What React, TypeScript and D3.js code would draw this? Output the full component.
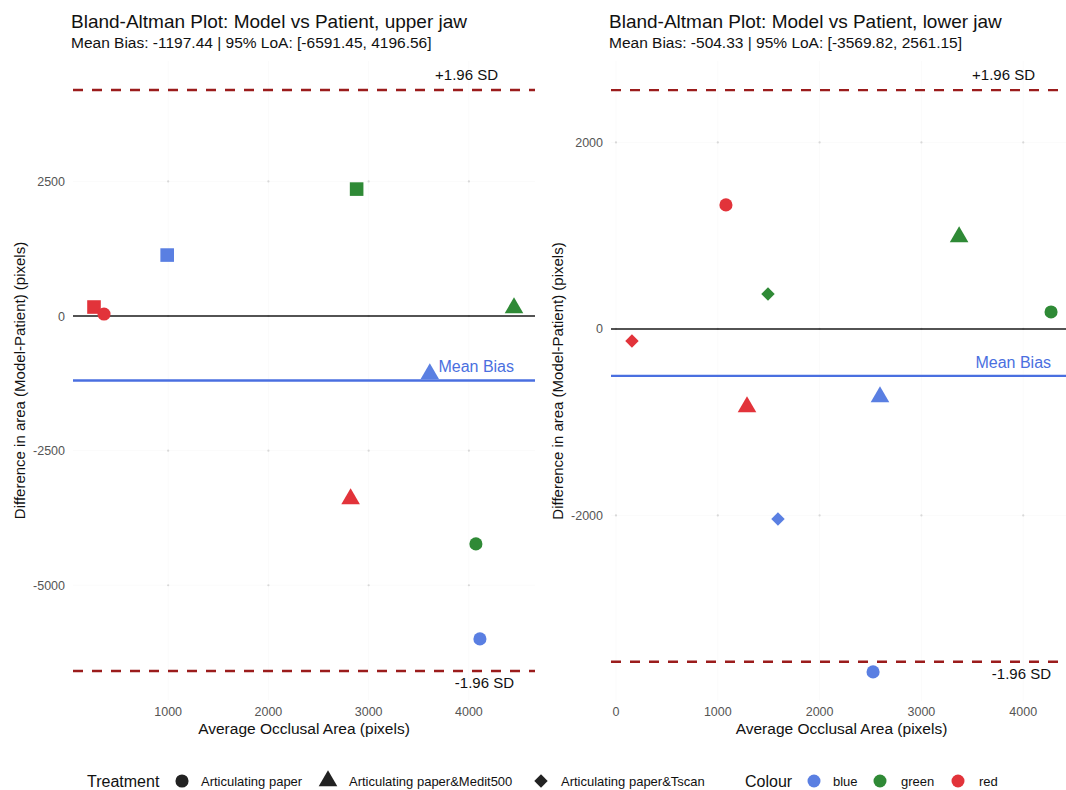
import React from 'react';
import * as d3 from 'd3';

// values
const upperAvg = [260, 360, 990, 2880, 4450, 3610, 2820, 4070, 4110];
const upperDiff = [167, 37, 1132, 2357, 150, -1076, -3397, -4232, -5996];
const upperColour = ['red', 'red', 'blue', 'green', 'green', 'blue', 'red', 'green', 'blue'];
const upperTreatment = ['Tscan', 'Paper', 'Tscan', 'Tscan', 'Medit', 'Medit', 'Medit', 'Paper', 'Paper'];

const lowerAvg = [157, 1080, 1493, 1287, 1591, 3370, 4273, 2593, 2525];
const lowerDiff = [-129, 1330, 375, -836, -2038, 987, 182, -729, -3678];
const lowerColour = ['red', 'red', 'green', 'red', 'blue', 'green', 'green', 'blue', 'blue'];
const lowerTreatment = ['Tscan', 'Paper', 'Tscan', 'Medit', 'Tscan', 'Medit', 'Paper', 'Medit', 'Paper'];

const upperStats = [-1197.44, -6591.45, 4196.56]; // bias, lower LoA, upper LoA
const lowerStats = [-504.33, -3569.82, 2561.15];

const upperXTicks = [1000, 2000, 3000, 4000];
const upperYTicks = [2500, 0, -2500, -5000];
const lowerXTicks = [0, 1000, 2000, 3000, 4000];
const lowerYTicks = [2000, 0, -2000];

const treatmentLabels = ['Articulating paper', 'Articulating paper&Medit500', 'Articulating paper&Tscan'];
const colourLabels = ['blue', 'green', 'red'];

const COLORS: Record<string, string> = { blue: '#5a7fe2', green: '#2f8a36', red: '#e2333a' };
const FONT = '"Liberation Sans", Arial, Helvetica, sans-serif';

function symbolPath(shape: string) {
	if (shape === 'circle') return d3.symbol(d3.symbolCircle, 135)();
	if (shape === 'triangle') return d3.symbol(d3.symbolTriangle, 150)();
	if (shape === 'square') return d3.symbol(d3.symbolSquare, 185)();
	return d3.symbol(d3.symbolSquare, 90)(); // diamond, rotated
}

function Panel({ left, right, top, bottom, avg, diff, colour, treat, stats, xTicks, yTicks, title, tscanShape }) {
	const [bias, loaLo, loaHi] = stats;
	const xExt = d3.extent(avg) as [number, number];
	const xPad = (xExt[1] - xExt[0]) * 0.05;
	const yMin = Math.min(d3.min(diff)!, loaLo);
	const yMax = Math.max(d3.max(diff)!, loaHi);
	const yPad = (yMax - yMin) * 0.05;
	const x = d3.scaleLinear().domain([xExt[0] - xPad, xExt[1] + xPad]).range([left, right]);
	const y = d3.scaleLinear().domain([yMin - yPad, yMax + yPad]).range([bottom, top]);
	const shapeOf = (t: string) => (t === 'Paper' ? 'circle' : t === 'Medit' ? 'triangle' : tscanShape);
	const labelX = x(xExt[1]);
	const fmt = (v: number) => v.toFixed(2);

	return (
		<g>
			<text x={left - 2} y={28} fontSize={19} fill="#111">{title}</text>
			<text x={left - 2} y={48} fontSize={15.5} fill="#111">
				{`Mean Bias: ${fmt(bias)} | 95% LoA: [${fmt(loaLo)}, ${fmt(loaHi)}]`}
			</text>

			{/* faint grid */}
			{xTicks.map(t => (
				<line key={'gx' + t} x1={x(t)} x2={x(t)} y1={top} y2={bottom} stroke="#fbfbfb" />
			))}
			{yTicks.map(t => (
				<line key={'gy' + t} x1={left} x2={right} y1={y(t)} y2={y(t)} stroke="#fbfbfb" />
			))}
			{xTicks.map(tx => yTicks.map(ty => (
				<circle key={`d${tx}_${ty}`} cx={x(tx)} cy={y(ty)} r={1.1} fill="#d8d8d8" />
			)))}

			{/* reference lines */}
			<line x1={left} x2={right} y1={y(0)} y2={y(0)} stroke="#1a1a1a" strokeWidth={1.4} />
			<line x1={left} x2={right} y1={y(bias)} y2={y(bias)} stroke="#4a6fe0" strokeWidth={2.3} />
			<line x1={left} x2={right} y1={y(loaHi)} y2={y(loaHi)} stroke="#9b1c1c" strokeWidth={2.4} strokeDasharray="10,9" />
			<line x1={left} x2={right} y1={y(loaLo)} y2={y(loaLo)} stroke="#9b1c1c" strokeWidth={2.4} strokeDasharray="10,9" />

			<text x={labelX - 16} y={y(loaHi) - 10} fontSize={15} textAnchor="end" fill="#111">+1.96 SD</text>
			<text x={labelX} y={y(loaLo) + 17} fontSize={15} textAnchor="end" fill="#111">-1.96 SD</text>
			<text x={labelX} y={y(bias) - 8} fontSize={16} textAnchor="end" fill="#4a6fe0">Mean Bias</text>

			{/* points */}
			{avg.map((a, i) => {
				const shape = shapeOf(treat[i]);
				return (
					<path key={'p' + i} d={symbolPath(shape)!}
						transform={`translate(${x(a)},${y(diff[i])})${shape === 'diamond' ? ' rotate(45)' : ''}`}
						fill={COLORS[colour[i]]} />
				);
			})}

			{/* axes text */}
			{xTicks.map(t => (
				<text key={'tx' + t} x={x(t)} y={716} fontSize={12.5} textAnchor="middle" fill="#555">{t}</text>
			))}
			{yTicks.map(t => (
				<text key={'ty' + t} x={left - 8} y={y(t) + 4.5} fontSize={12.5} textAnchor="end" fill="#555">{t}</text>
			))}
			<text x={(left + right) / 2} y={734} fontSize={15.5} textAnchor="middle" fill="#111">
				Average Occlusal Area (pixels)
			</text>
			<text transform={`translate(${left - 48},${(top + bottom) / 2}) rotate(-90)`} fontSize={15} textAnchor="middle" fill="#111">
				Difference in area (Model-Patient) (pixels)
			</text>
		</g>
	);
}

function Legend() {
	const cy = 781;
	const treatShapes = ['circle', 'triangle', 'diamond'];
	const treatKeyX = [182, 328, 541];
	const treatTextX = [201, 349, 561];
	const colourKeyX = [814, 880, 958];
	const colourTextX = [833, 901, 979];
	return (
		<g>
			<text x={87} y={cy + 5.5} fontSize={16} fill="#111">Treatment</text>
			{treatmentLabels.map((lab, i) => (
				<g key={lab}>
					<path d={symbolPath(treatShapes[i])!}
						transform={`translate(${treatKeyX[i]},${cy})${treatShapes[i] === 'diamond' ? ' rotate(45)' : ''}`}
						fill="#222" />
					<text x={treatTextX[i]} y={cy + 4.5} fontSize={13} fill="#111">{lab}</text>
				</g>
			))}
			<text x={745} y={cy + 5.5} fontSize={16} fill="#111">Colour</text>
			{colourLabels.map((lab, i) => (
				<g key={lab}>
					<circle cx={colourKeyX[i]} cy={cy} r={6.5} fill={COLORS[lab]} />
					<text x={colourTextX[i]} y={cy + 4.5} fontSize={13} fill="#111">{lab}</text>
				</g>
			))}
		</g>
	);
}

export default function App() {
	return (
		<div style={{ position: 'absolute', left: 0, top: 0 }}>
			<svg width={1066} height={790} style={{ display: 'block', background: '#fff', fontFamily: FONT }}>
				<Panel left={73} right={535} top={61} bottom={700}
					avg={upperAvg} diff={upperDiff} colour={upperColour} treat={upperTreatment}
					stats={upperStats} xTicks={upperXTicks} yTicks={upperYTicks}
					title="Bland-Altman Plot: Model vs Patient, upper jaw" tscanShape="square" />
				<Panel left={611} right={1072} top={61} bottom={701}
					avg={lowerAvg} diff={lowerDiff} colour={lowerColour} treat={lowerTreatment}
					stats={lowerStats} xTicks={lowerXTicks} yTicks={lowerYTicks}
					title="Bland-Altman Plot: Model vs Patient, lower jaw" tscanShape="diamond" />
				<Legend />
			</svg>
		</div>
	);
}
